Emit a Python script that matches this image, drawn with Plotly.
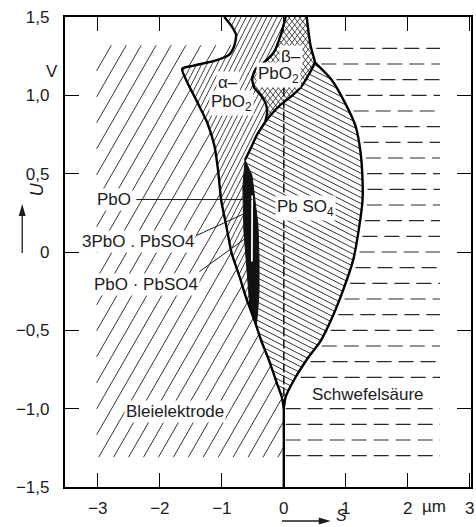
import numpy as np
import plotly.graph_objects as go

# Axis extents: layer thickness s in µm, electrode potential U in V
S_RANGE = [-3.53, 3.02]
U_RANGE = [-1.5, 1.5]

X_TICKS = [-3, -2, -1, 0, 1, 2, 3]
X_TICK_TEXT = ["−3", "−2", "−1", "0", "1", "2", "3"]
Y_TICKS = [-1.5, -1.0, -0.5, 0.0, 0.5, 1.0, 1.5]
Y_TICK_TEXT = ["−1,5", "−1,0", "−0,5", "0", "0,5", "1,0", "1,5"]

# Surface of the lead electrode (top edge down to s = 0 at U = -1.0 V)
ELECTRODE_S = [-0.96, -0.84, -0.77, -0.80, -0.88, -1.08, -1.45, -1.64, -1.56, -1.40,
               -1.24, -1.12, -1.06, -1.01, -0.93, -0.84, -0.72, -0.61, -0.545, -0.48,
               -0.445, -0.37, -0.24, -0.11, -0.03, 0.0]
ELECTRODE_U = [1.50, 1.44, 1.385, 1.315, 1.26, 1.225, 1.19, 1.17, 1.085, 0.96,
               0.83, 0.68, 0.52, 0.33, 0.17, -0.01, -0.15, -0.29, -0.36, -0.43,
               -0.47, -0.56, -0.69, -0.84, -0.93, -1.0]

# beta-PbO2 layer, left and right edges (top to bottom)
BETA_LEFT_S = [0.03, -0.05, -0.16, -0.32, -0.45, -0.51, -0.48, -0.37, -0.29, -0.27, -0.30]
BETA_LEFT_U = [1.50, 1.385, 1.275, 1.21, 1.17, 1.11, 1.05, 1.00, 0.945, 0.89, 0.83]
BETA_RIGHT_S = [0.37, 0.40, 0.43, 0.47, 0.50, 0.37, 0.27, 0.11, -0.05, -0.21, -0.30]
BETA_RIGHT_U = [1.50, 1.40, 1.32, 1.26, 1.21, 1.11, 1.05, 0.99, 0.94, 0.875, 0.83]

# PbSO4 layer: outer edge towards the acid, inner edge below beta-PbO2
SULFATE_OUTER_S = [0.50, 0.77, 0.99, 1.16, 1.24, 1.27, 1.27, 1.22, 1.12, 0.96,
                   0.80, 0.59, 0.40, 0.16, 0.03, 0.0]
SULFATE_OUTER_U = [1.21, 1.10, 0.95, 0.80, 0.63, 0.46, 0.33, 0.17, -0.05, -0.24,
                   -0.40, -0.57, -0.67, -0.82, -0.925, -1.0]
SULFATE_INNER_S = [-0.30, -0.43, -0.53, -0.626]
SULFATE_INNER_U = [0.83, 0.75, 0.665, 0.587]

# PbO lens (solid black) and the light slit inside it
PBO_LEFT_S = [-0.626, -0.66, -0.645, -0.61, -0.57, -0.545]
PBO_LEFT_U = [0.587, 0.415, 0.14, -0.04, -0.24, -0.36]
PBO_RIGHT_S = [-0.626, -0.514, -0.465, -0.417, -0.40, -0.40, -0.425, -0.445]
PBO_RIGHT_U = [0.587, 0.49, 0.33, 0.17, -0.04, -0.255, -0.40, -0.47]
SLIT_S = [-0.51, -0.515]
SLIT_U = [0.36, -0.06]

# Sulfuric acid shading: one dashed line per potential level
# (the -0.9 V row is left free for the "Schwefelsäure" label)
ACID_LEVELS = [1.3, 1.2, 1.1, 1.0, 0.9, 0.8, 0.7, 0.6, 0.5, 0.4, 0.3, 0.2, 0.1, 0.0,
               -0.1, -0.2, -0.3, -0.4, -0.5, -0.6, -0.7, -0.8, -1.0, -1.1, -1.2, -1.3]
ACID_END_S = 2.52

# Original electrode surface at s = 0
ZERO_DASH_U = [1.05, -1.0]
ZERO_SOLID_U = [-1.0, -1.5]

# Label leaders (start at the label, end inside the thin layers)
LEADER_PBO = ([-2.38, -0.51], [0.335, 0.335])
LEADER_3PBO = ([-1.41, -0.61], [0.105, 0.25])
LEADER_PBO_PBSO4 = ([-1.36, -0.59], [-0.125, 0.095])

W, H = 476, 527
MARGIN = dict(l=65, r=3, t=17, b=40)
PLOT_W = W - MARGIN["l"] - MARGIN["r"]
PLOT_H = H - MARGIN["t"] - MARGIN["b"]
PX_S = PLOT_W / (S_RANGE[1] - S_RANGE[0])
PX_U = PLOT_H / (U_RANGE[1] - U_RANGE[0])


def pick(s, u, lo, hi):
    out = [(a, b) for a, b in zip(s, u) if lo <= b <= hi]
    return [p[0] for p in out], [p[1] for p in out]


def clip_box(a, b, box):
    s0, s1, u0, u1 = box
    d = b - a
    t0, t1 = 0.0, 1.0
    for p, q in ((-d[0], a[0] - s0), (d[0], s1 - a[0]), (-d[1], a[1] - u0), (d[1], u1 - a[1])):
        if p == 0:
            if q < 0:
                return None
        else:
            r = q / p
            if p < 0:
                t0 = max(t0, r)
            else:
                t1 = min(t1, r)
    if t0 >= t1:
        return None
    return a + t0 * d, a + t1 * d


def hatch(ps, pu, angle, gap, box=None):
    """Parallel hatch lines (screen angle in degrees, gap in px) clipped to a polygon."""
    P = np.column_stack([np.asarray(ps, float) * PX_S, np.asarray(pu, float) * PX_U])
    Q = np.roll(P, -1, axis=0)
    a = np.radians(angle)
    d = np.array([np.cos(a), np.sin(a)])
    n = np.array([-np.sin(a), np.cos(a)])
    proj = P @ n
    xs, ys = [], []
    c = np.floor(proj.min() / gap) * gap + gap * 0.5
    while c < proj.max():
        ts = []
        for p, q in zip(P, Q):
            a0, a1 = p @ n, q @ n
            if (a0 <= c < a1) or (a1 <= c < a0):
                k = (c - a0) / (a1 - a0)
                ts.append((p + k * (q - p)) @ d)
        ts.sort()
        for t0, t1 in zip(ts[::2], ts[1::2]):
            A = c * n + t0 * d
            B = c * n + t1 * d
            A = np.array([A[0] / PX_S, A[1] / PX_U])
            B = np.array([B[0] / PX_S, B[1] / PX_U])
            if box is not None:
                seg = clip_box(A, B, box)
                if seg is None:
                    continue
                A, B = seg
            xs += [A[0], B[0], None]
            ys += [A[1], B[1], None]
        c += gap
    return xs, ys


# ---- region outlines -------------------------------------------------------
electrode_s = ELECTRODE_S + [0.0, S_RANGE[0], S_RANGE[0]]
electrode_u = ELECTRODE_U + [U_RANGE[0], U_RANGE[0], U_RANGE[1]]

e_top_s, e_top_u = pick(ELECTRODE_S, ELECTRODE_U, -0.36, 2.0)
alpha_s = e_top_s + PBO_LEFT_S[::-1] + SULFATE_INNER_S[::-1] + BETA_LEFT_S[::-1]
alpha_u = e_top_u + PBO_LEFT_U[::-1] + SULFATE_INNER_U[::-1] + BETA_LEFT_U[::-1]

beta_s = BETA_LEFT_S + BETA_RIGHT_S[::-1]
beta_u = BETA_LEFT_U + BETA_RIGHT_U[::-1]

b_low_s, b_low_u = pick(BETA_RIGHT_S, BETA_RIGHT_U, -2.0, 1.21)
e_low_s, e_low_u = pick(ELECTRODE_S, ELECTRODE_U, -2.0, -0.475)
sulfate_s = b_low_s + SULFATE_INNER_S + PBO_RIGHT_S + e_low_s + SULFATE_OUTER_S[::-1]
sulfate_u = b_low_u + SULFATE_INNER_U + PBO_RIGHT_U + e_low_u + SULFATE_OUTER_U[::-1]

e_mid_s, e_mid_u = pick(ELECTRODE_S, ELECTRODE_U, -0.47, -0.37)
pbo_s = PBO_LEFT_S + e_mid_s + PBO_RIGHT_S[::-1]
pbo_u = PBO_LEFT_U + e_mid_u + PBO_RIGHT_U[::-1]

fig = go.Figure()
INK = "#1c1c1c"


def add_lines(xs, ys, width, color=INK, dash=None, shape="linear"):
    fig.add_trace(go.Scatter(x=xs, y=ys, mode="lines", hoverinfo="skip", showlegend=False,
                             line=dict(color=color, width=width, dash=dash, shape=shape,
                                       smoothing=0.6)))


# hatching of the phases
add_lines(*hatch(electrode_s, electrode_u, 60, 13.0, box=(-3.02, 0.0, -1.31, 1.32)), 0.9)
add_lines(*hatch(alpha_s, alpha_u, 63, 4.6), 0.85)
add_lines(*hatch(beta_s, beta_u, 52, 4.3), 0.8)
add_lines(*hatch(beta_s, beta_u, 128, 4.3), 0.8)
add_lines(*hatch(sulfate_s, sulfate_u, -27, 5.4), 0.9)

# PbO lens
fig.add_trace(go.Scatter(x=pbo_s, y=pbo_u, mode="lines", fill="toself", fillcolor="#111111",
                         line=dict(color="#111111", width=1), hoverinfo="skip", showlegend=False))
add_lines(SLIT_S, SLIT_U, 1.8, color="white")

# sulfuric acid dashes, starting a little right of the outer layer edge
b_up_s, b_up_u = pick(BETA_RIGHT_S, BETA_RIGHT_U, 1.22, 2.0)
edge_s = np.array(b_up_s + SULFATE_OUTER_S)
edge_u = np.array(b_up_u + SULFATE_OUTER_U)
order = np.argsort(edge_u)
acid_x, acid_y = [], []
for lvl in ACID_LEVELS:
    start = np.interp(lvl, edge_u[order], edge_s[order]) + (0.08 if lvl > -1.0 else 0.03)
    acid_x += [start, ACID_END_S, None]
    acid_y += [lvl, lvl, None]
add_lines(acid_x, acid_y, 1.2, color="#2a2a2a", dash="15px,7px")

# original surface
add_lines([0, 0], ZERO_DASH_U, 1.6, dash="9px,3px")
add_lines([0, 0], ZERO_SOLID_U, 2.4, color="black")

# phase boundaries
for s, u in ((ELECTRODE_S, ELECTRODE_U), (BETA_LEFT_S, BETA_LEFT_U),
             (BETA_RIGHT_S, BETA_RIGHT_U), (SULFATE_OUTER_S, SULFATE_OUTER_U),
             (SULFATE_INNER_S, SULFATE_INNER_U)):
    add_lines(s, u, 2.4, color="black", shape="spline")

# leaders
for lx, ly in (LEADER_PBO, LEADER_3PBO, LEADER_PBO_PBSO4):
    add_lines(lx, ly, 1.0)

FONT = "Liberation Sans, Arial, sans-serif"
labels = [
    ("Bleielektrode", -1.75, -1.02, "center"),
    ("Schwefelsäure", 1.36, -0.91, "center"),
    ("Pb SO<sub>4</sub>", 0.35, 0.28, "center"),
    ("α–", -0.90, 1.08, "center"),
    ("PbO<sub>2</sub>", -0.85, 0.95, "center"),
    ("β–", 0.12, 1.245, "center"),
    ("PbO<sub>2</sub>", -0.08, 1.13, "center"),
    ("PbO", -2.43, 0.335, "right"),
    ("3PbO . PbSO4", -1.41, 0.064, "right"),
    ("PbO · PbSO4", -1.36, -0.21, "right"),
]
for text, x, y, anchor in labels:
    fig.add_annotation(x=x, y=y, xref="x", yref="y", text=text, showarrow=False,
                       xanchor=anchor, yanchor="middle", bgcolor="white", borderpad=1,
                       font=dict(family=FONT, size=17, color=INK))


def px_x(px):
    return (px - MARGIN["l"]) / PLOT_W


def px_y(py):
    return (H - MARGIN["b"] - py) / PLOT_H


# unit and axis symbols
fig.add_annotation(x=2.42, y=px_y(506), xref="x", yref="paper", text="µm", showarrow=False,
                   yanchor="middle", font=dict(family=FONT, size=17, color=INK))
fig.add_annotation(x=px_x(44), y=px_y(60), xref="paper", yref="paper", text="V",
                   showarrow=False, font=dict(family=FONT, size=17, color=INK))
fig.add_annotation(x=px_x(25), y=px_y(189), xref="paper", yref="paper", text="<i>U</i>",
                   textangle=-90, showarrow=False, font=dict(family=FONT, size=18, color=INK))
fig.add_annotation(x=px_x(335), y=px_y(526), xref="paper", yref="paper", text="<i>S</i>",
                   xanchor="left", yanchor="bottom", showarrow=False,
                   font=dict(family=FONT, size=16, color=INK))

# arrows next to the axis symbols (shaft + filled head)
arrow_line = dict(color=INK, width=1.3)
fig.add_shape(type="line", xref="paper", yref="paper", x0=px_x(22), x1=px_x(22),
              y0=px_y(253), y1=px_y(214), line=arrow_line)
fig.add_shape(type="path", xref="paper", yref="paper", fillcolor=INK, line=dict(width=0),
              path=f"M {px_x(22)} {px_y(204)} L {px_x(25.5)} {px_y(216)} "
                   f"L {px_x(18.5)} {px_y(216)} Z")
fig.add_shape(type="line", xref="paper", yref="paper", x0=px_x(283), x1=px_x(322),
              y0=px_y(521), y1=px_y(521), line=arrow_line)
fig.add_shape(type="path", xref="paper", yref="paper", fillcolor=INK, line=dict(width=0),
              path=f"M {px_x(332)} {px_y(521)} L {px_x(320)} {px_y(517.5)} "
                   f"L {px_x(320)} {px_y(524.5)} Z")

axis_common = dict(ticks="inside", ticklen=14, tickwidth=1.4, tickcolor="black",
                   showline=True, linewidth=2.2, linecolor="black", mirror="ticks",
                   showgrid=False, zeroline=False,
                   tickfont=dict(family=FONT, size=17, color=INK))
fig.update_xaxes(range=S_RANGE, tickvals=X_TICKS, ticktext=X_TICK_TEXT,
                 ticklabelstandoff=4, **axis_common)
fig.update_yaxes(range=U_RANGE, tickvals=Y_TICKS, ticktext=Y_TICK_TEXT,
                 ticklabelstandoff=10, **axis_common)
fig.update_layout(width=W, height=H, margin=MARGIN, plot_bgcolor="white",
                  paper_bgcolor="white", showlegend=False)

fig.write_html("out.html")
